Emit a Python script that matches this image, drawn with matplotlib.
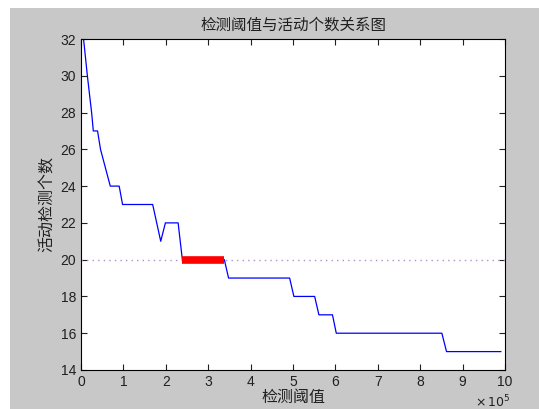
import numpy as np
import matplotlib
matplotlib.use("Agg")
import matplotlib.pyplot as plt
from matplotlib.patches import Rectangle

plt.rcParams['font.family'] = ['Liberation Sans', 'Noto Sans CJK SC', 'DejaVu Sans']

# threshold (x 1e5) vs detected activity count
thresh = [0.06, 0.15, 0.25, 0.29, 0.39, 0.46, 0.69, 0.90, 0.98, 1.69, 1.88, 1.99,
          2.29, 2.39, 3.38, 3.48, 4.92, 5.02, 5.51, 5.61, 5.93, 6.02, 8.51, 8.62, 9.90]
count = [32, 30, 28, 27, 27, 26, 24, 24, 23, 23, 21, 22,
         22, 20, 20, 19, 19, 18, 18, 17, 17, 16, 16, 15, 15]

target = 20
sel_lo, sel_hi = 2.39, 3.38

fig = plt.figure(figsize=(5.39, 4.09), dpi=100)
fig.patch.set_facecolor('white')
# grey window area (screenshot has a white margin top/left)
fig.patches.append(Rectangle((10 / 539, 0), 1, (409 - 8) / 409, transform=fig.transFigure,
                             facecolor='#c8c8c8', edgecolor='none', zorder=-10))
ax = fig.add_axes([0.1503, 0.0954, 0.7867, 0.8092])

ax.plot([0, 10], [target, target], linestyle=(0, (1, 3)), color='#b090c8', lw=1.0)
ax.plot(thresh, count, color='#0000ff', lw=0.9)
ax.plot([sel_lo, sel_hi], [target, target], color='#ff0000', lw=5.5, solid_capstyle='butt')

ax.set_xlim(0, 10)
ax.set_ylim(14, 32)
ax.set_xticks(range(0, 11))
ax.set_yticks(range(14, 33, 2))
ax.tick_params(direction='in', top=True, right=True, labelsize=10, length=4, colors='#202020')
for s in ax.spines.values():
    s.set_linewidth(0.8)

ax.set_title('检测阈值与活动个数关系图', fontsize=11.2, pad=7, color='#202020')
ax.set_xlabel('检测阈值', fontsize=11.5, labelpad=1, color='#202020')
ax.set_ylabel('活动检测个数', fontsize=11.5, labelpad=4, color='#202020')
fig.text(0.882, 0.005, r'$\times\,10^{5}$', fontsize=9, color='#202020')

fig.savefig('out.png', dpi=100, facecolor=fig.get_facecolor())
